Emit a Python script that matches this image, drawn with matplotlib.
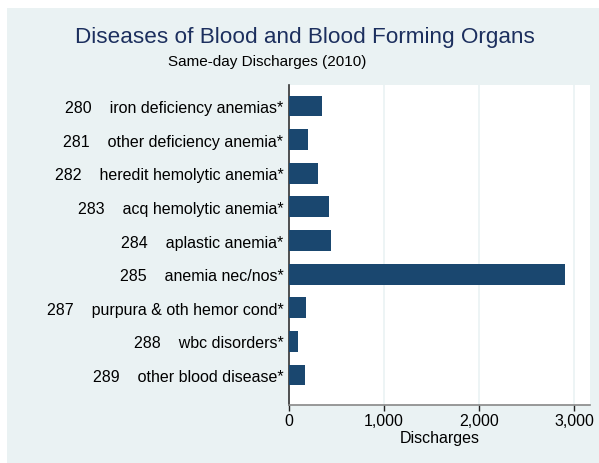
import matplotlib
matplotlib.use("Agg")
import matplotlib.pyplot as plt
from matplotlib.patches import Rectangle
from matplotlib.ticker import FuncFormatter

codes = ["280", "281", "282", "283", "284", "285", "287", "288", "289"]
names = ["iron deficiency anemias*", "other deficiency anemia*", "heredit hemolytic anemia*",
         "acq hemolytic anemia*", "aplastic anemia*", "anemia nec/nos*",
         "purpura & oth hemor cond*", "wbc disorders*", "other blood disease*"]
discharges = [345, 200, 305, 420, 442, 2905, 179, 98, 172]
xticks = [0, 1000, 2000, 3000]

plt.rcParams['font.family'] = ['Liberation Sans', 'DejaVu Sans']

W, H = 599, 464
fig = plt.figure(figsize=(W / 100, H / 100), dpi=100, facecolor='white')
bg = '#eaf2f3'
bgax = fig.add_axes([7 / W, 0, 1 - 7 / W, 1 - 9 / H], zorder=-10)
bgax.set_facecolor(bg)
bgax.set_axis_off()
bgax.add_patch(Rectangle((0, 0), 1, 1, transform=bgax.transAxes, facecolor=bg, edgecolor='none'))

left, right, top, bottom = 289, 590, 86, 406
ax = fig.add_axes([left / W, 1 - bottom / H, (right - left) / W, (bottom - top) / H])
ax.set_facecolor('white')

pos = list(range(len(codes)))
ax.barh(pos, discharges, height=0.62, color='#1a476f', zorder=3)
ax.set_ylim(8.89, -0.625)
ax.set_xlim(0, 3168)

labels = [f"{c}    {n}" for c, n in zip(codes, names)]
ax.set_yticks(pos)
ax.set_yticklabels(labels, fontsize=11.5)
ax.tick_params(axis='y', length=0, pad=4)

ax.set_xticks(xticks)
ax.xaxis.set_major_formatter(FuncFormatter(lambda v, p: f"{int(v):,}"))
ax.tick_params(axis='x', length=4, width=1, color='#222222', labelsize=11.5, pad=2)
ax.grid(axis='x', color=bg, linewidth=1.2, zorder=0)

for s in ['top', 'right']:
    ax.spines[s].set_visible(False)
ax.spines['left'].set_color('#333333')
ax.spines['left'].set_linewidth(1.2)
ax.spines['bottom'].set_color('#888888')
ax.spines['bottom'].set_linewidth(1.2)

ax.set_xlabel("Discharges", fontsize=11.5, labelpad=1.5)

fig.text(304.5 / W, 1 - 37 / H, "Diseases of Blood and Blood Forming Organs",
         ha='center', va='center', fontsize=16.2, color='#1c2f5e')
fig.text(267.5 / W, 1 - 62 / H, "Same-day Discharges (2010)",
         ha='center', va='center', fontsize=11, color='black')

fig.savefig("out.png", dpi=100, facecolor='white')
